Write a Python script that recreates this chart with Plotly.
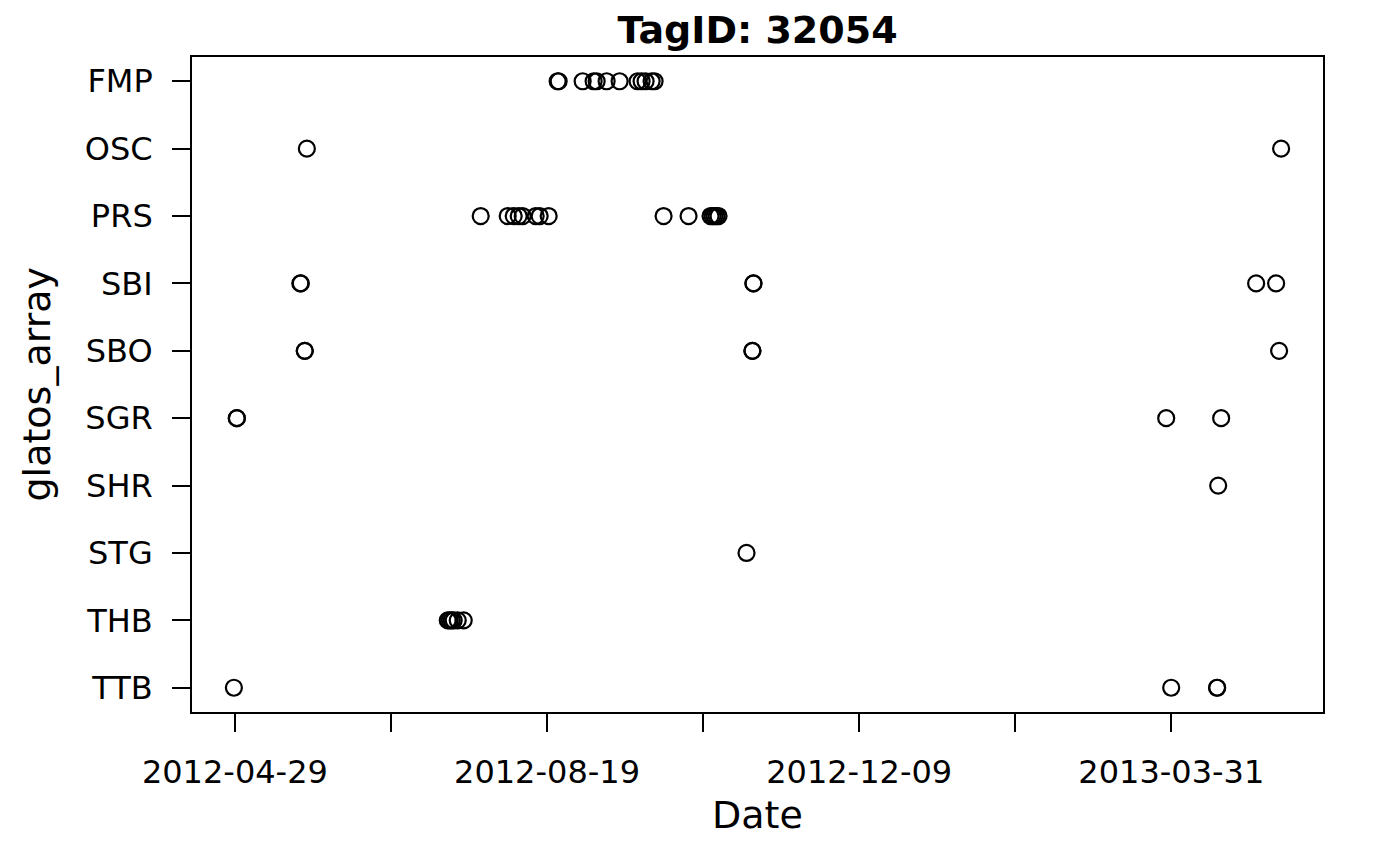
import plotly.graph_objects as go
from datetime import datetime, timedelta

# Category order from bottom to top
arrays_order = ["TTB", "THB", "STG", "SHR", "SGR", "SBO", "SBI", "PRS", "OSC", "FMP"]

# Detection timestamps per receiver array
FMP = ["2012-08-22 19:26", "2012-08-23 04:00", "2012-08-31 18:43", "2012-09-04 17:17",
       "2012-09-05 19:12", "2012-09-09 09:07", "2012-09-14 01:00", "2012-09-20 12:00",
       "2012-09-21 22:19", "2012-09-23 08:38", "2012-09-25 12:29", "2012-09-26 14:10"]
OSC = ["2012-05-24 19:41", "2013-05-09 09:36"]
PRS = ["2012-07-26 04:48", "2012-08-04 21:07", "2012-08-07 01:00", "2012-08-08 19:55",
       "2012-08-10 06:14", "2012-08-14 22:05", "2012-08-16 08:38", "2012-08-19 14:10",
       "2012-09-29 19:41", "2012-10-08 18:43", "2012-10-16 16:05", "2012-10-17 09:22",
       "2012-10-18 02:24", "2012-10-18 19:41", "2012-10-19 12:58"]
SBI = ["2012-05-22 11:31", "2012-05-22 15:50", "2012-11-01 01:00", "2012-11-01 02:10",
       "2013-04-30 10:34", "2013-05-07 14:38"]
SBO = ["2012-05-24 01:00", "2012-05-24 02:24", "2012-10-31 16:00", "2012-10-31 17:31",
       "2013-05-08 16:34"]
SGR = ["2012-04-29 16:00", "2012-04-29 17:17", "2013-03-29 04:05", "2013-04-17 21:22"]
SHR = ["2013-04-16 19:41"]
STG = ["2012-10-29 13:55"]
THB = ["2012-07-14 08:53", "2012-07-15 02:10", "2012-07-15 19:26", "2012-07-16 12:29",
       "2012-07-17 23:02", "2012-07-20 02:38"]
TTB = ["2012-04-28 15:22", "2013-03-30 23:02", "2013-04-16 10:00", "2013-04-16 11:02"]

detections = {"FMP": FMP, "OSC": OSC, "PRS": PRS, "SBI": SBI, "SBO": SBO,
              "SGR": SGR, "SHR": SHR, "STG": STG, "THB": THB, "TTB": TTB}

# Axis ticks: every 56 days, labels on every other tick
tick_start = datetime(2012, 4, 29)
tick_step_days = 56
n_ticks = 7
tick_vals = [tick_start + timedelta(days=tick_step_days * k) for k in range(n_ticks)]
tick_text = [t.strftime("%Y-%m-%d") if k % 2 == 0 else "" for k, t in enumerate(tick_vals)]

x_all, y_all = [], []
for name in arrays_order:
    for d in detections[name]:
        x_all.append(d)
        y_all.append(name)

fig = go.Figure()
fig.add_trace(go.Scatter(
    x=x_all, y=y_all, mode="markers",
    marker=dict(symbol="circle-open", size=16, color="black", line=dict(width=2.2, color="black")),
    showlegend=False,
))

# R-style 4% padding on data range
xs = [datetime.strptime(s, "%Y-%m-%d %H:%M") for s in x_all]
xmin, xmax = min(xs), max(xs)
pad = (xmax - xmin) * 0.04
x_range = [xmin - pad, xmax + pad]

# page body has an 8px margin; compensate so the plot lands where the reference has it
W, H = 1384, 850
font = "DejaVu Sans"
fig.update_layout(
    width=W, height=H,
    margin=dict(l=184, r=69, t=49, b=146),
    paper_bgcolor="white", plot_bgcolor="white",
    font=dict(family=font, color="black", size=32),
    title=dict(text="<b>TagID: 32054</b>", x=0.5, xref="paper", xanchor="center",
               y=1 - 22 / H, yref="container", yanchor="middle",
               font=dict(family=font, size=38, color="black")),
    xaxis=dict(
        type="date", range=x_range, tickmode="array", tickvals=tick_vals, ticktext=tick_text,
        ticks="outside", ticklen=18, tickwidth=1.5, tickcolor="black",
        showline=True, linecolor="black", linewidth=1.8, mirror=True,
        showgrid=False, zeroline=False, ticklabelstandoff=13,
        tickfont=dict(family=font, size=32, color="black"),
    ),
    yaxis=dict(
        type="category", categoryorder="array", categoryarray=arrays_order,
        range=[-0.36, len(arrays_order) - 1 + 0.36],
        ticks="outside", ticklen=18, tickwidth=1.5, tickcolor="black",
        showline=True, linecolor="black", linewidth=1.8, mirror=True,
        showgrid=False, zeroline=False, ticklabelstandoff=13,
        tickfont=dict(family=font, size=32, color="black"),
    ),
    annotations=[
        dict(text="Date", xref="paper", yref="paper", x=0.5, y=-(815 - 712) / 655,
             xanchor="center", yanchor="middle", showarrow=False,
             font=dict(family=font, size=38, color="black")),
        dict(text="glatos_array", xref="paper", yref="paper", x=-(192 - 36) / 1131, y=0.5,
             xanchor="center", yanchor="middle", textangle=-90, showarrow=False,
             font=dict(family=font, size=38, color="black")),
    ],
)

fig.write_html("out.html")
